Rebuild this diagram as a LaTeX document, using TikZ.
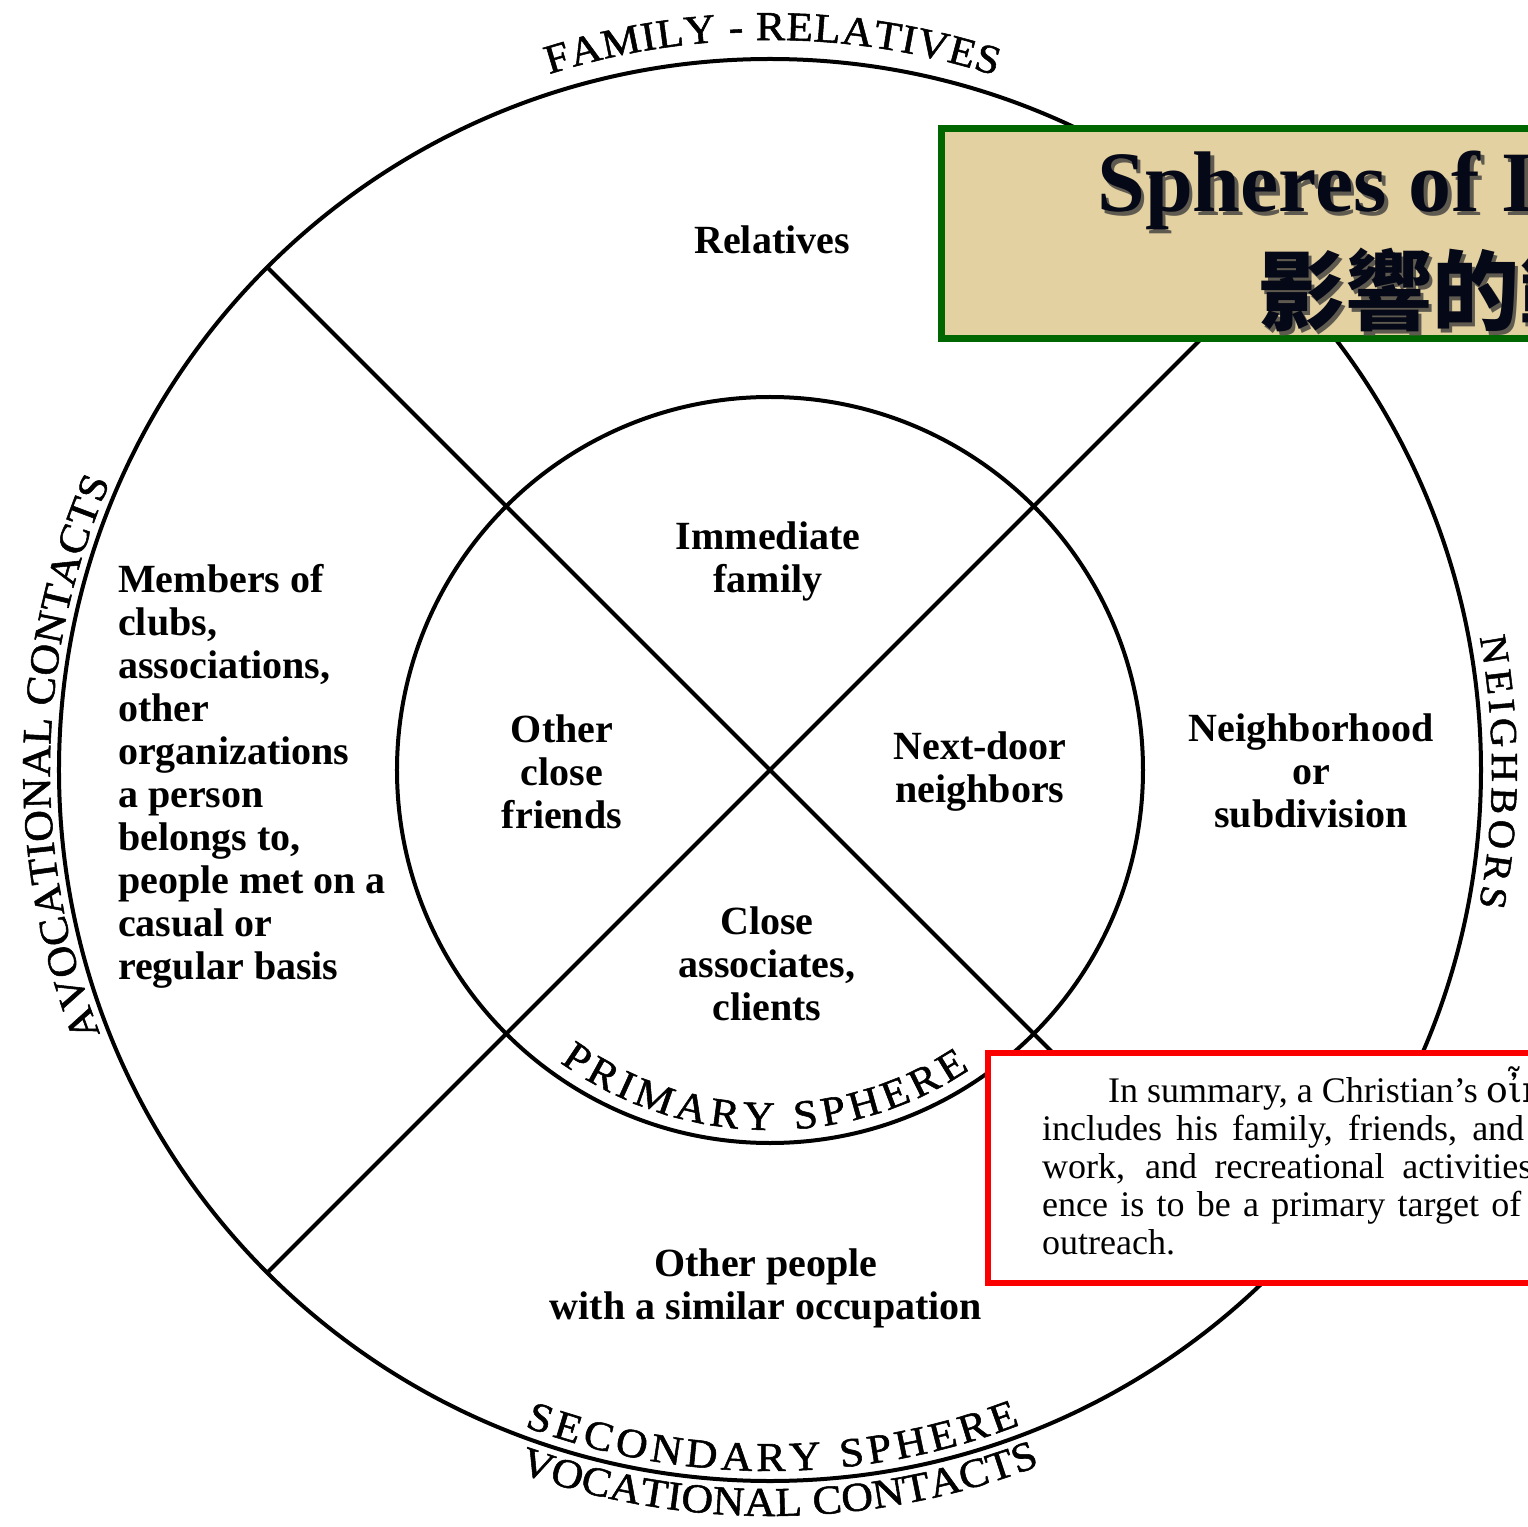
\documentclass[tikz,border=0pt]{standalone}
\usepackage{fontspec}
\setmainfont{Liberation Serif}
\newfontfamily\cjk{Noto Sans CJK TC}
\newfontfamily\grk{DejaVu Serif}
\newfontfamily\capsfont[FakeBold=1.3,FakeStretch=1.07]{Liberation Serif}
\usetikzlibrary{decorations.text}
\definecolor{titlegreen}{RGB}{0,102,0}
\definecolor{papyrus}{RGB}{228,209,162}
\definecolor{shadowgray}{RGB}{95,90,80}
\definecolor{titleink}{RGB}{5,8,22}
\definecolor{boxred}{RGB}{250,0,0}
\newcommand\lblfont{\bfseries\fontsize{40}{43}\selectfont}
\newcommand\sumfont{\fontsize{36}{39}\selectfont}
\begin{document}
\begin{tikzpicture}[x=1pt,y=1pt,
  ring/.style={line width=4pt},
  lbl/.style={font=\lblfont, align=center, inner sep=0pt},
  sumline/.style={font=\sumfont, anchor=base west, inner sep=0pt},
  arctext/.style={decorate, decoration={text along path, text={#1}, text align=fit to path}},
]
\useasboundingbox (-770,-756) rectangle (758,770);
\fill[white] (-770,-756) rectangle (758,770);
\coordinate (c) at (0,0);
% circles and dividers
\draw[ring] (c) circle[radius=711];
\draw[ring] (c) circle[radius=373];
\coordinate (ul) at (135:711);
\coordinate (lr) at (-45:711);
\coordinate (ll) at (225:711);
\coordinate (ur) at (45:711);
\draw[ring] (ul) -- (lr);
\draw[ring] (ll) -- (ur);
% curved titles
\begingroup
\capsfont\fontsize{41}{41}\selectfont
\path[arctext={FAMILY - RELATIVES}] (107.6:730) arc[start angle=107.6, end angle=72, radius=730];
\path[arctext={AVOCATIONAL CONTACTS}] (201.5:720) arc[start angle=201.5, end angle=156.4, radius=720];
\path[arctext={SECONDARY SPHERE}] (249.5:701) arc[start angle=249.5, end angle=290.9, radius=701];
\path[arctext={VOCATIONAL CONTACTS}] (250.3:746) arc[start angle=250.3, end angle=291.2, radius=746];
\path[arctext={PRIMARY SPHERE}] (234.3:360) arc[start angle=234.3, end angle=303.7, radius=360];
\fontsize{38}{38}\selectfont
\path[arctext={NEIGHBORS}] (10.6:722) arc[start angle=10.6, end angle=-10.9, radius=722];
\endgroup
% labels
\node[lbl] (rel) at (2,530) {Relatives};
\node[lbl] (imm) at (-2,209) {Immediate\\family};
\node[lbl] (ocf) at (-208,-1.5) {Other\\close\\friends};
\node[lbl] (ndn) at (210,-2) {Next-door\\neighbors};
\node[lbl] (cac) at (-3,-194) {Close\\associates,\\clients};
\node[lbl] (nos) at (541,-1) {Neighborhood\\or\\subdivision};
\node[lbl] (opo) at (-4,-518) {Other people\\with a similar occupation};
\node[lbl, align=left, anchor=north west] (mem) at (-652,206) {Members of\\clubs,\\associations,\\other\\organizations\\a person\\belongs to,\\people met on a\\casual or\\regular basis};
% title box
\draw[line width=7pt, draw=titlegreen, fill=papyrus] (171.5,641.5) rectangle (800,431.5);
\node[anchor=base west, inner sep=0pt, text=shadowgray, font=\bfseries\fontsize{86}{86}\selectfont] (tsh) at (330.5,554.5) {Spheres of Influence};
\node[anchor=base west, inner sep=0pt, text=titleink, font=\bfseries\fontsize{86}{86}\selectfont] (ttl) at (327,558) {Spheres of Influence};
\node[anchor=base west, inner sep=0pt, text=shadowgray, font=\cjk\bfseries\fontsize{87}{87}\selectfont] (tcs) at (491.5,442.5) {影響的範圍};
\node[anchor=base west, inner sep=0pt, text=titleink, font=\cjk\bfseries\fontsize{87}{87}\selectfont] (tcn) at (488,446) {影響的範圍};
% summary box
\draw[line width=6pt, draw=boxred, fill=white] (218,-283) rectangle (800,-513);
\node[sumline] (s1) at (338,-332) {In summary, a Christian's {\grk οἶκος}};
\node[sumline] (s2) at (272,-370) {\makebox[482pt][s]{includes his family, friends, and}};
\node[sumline] (s3) at (272,-408) {\makebox[490pt][s]{work, and recreational activities}};
\node[sumline] (s4) at (272,-446) {\makebox[479pt][s]{ence is to be a primary target of}};
\node[sumline] (s5) at (272,-484) {outreach.};
\end{tikzpicture}
\end{document}
